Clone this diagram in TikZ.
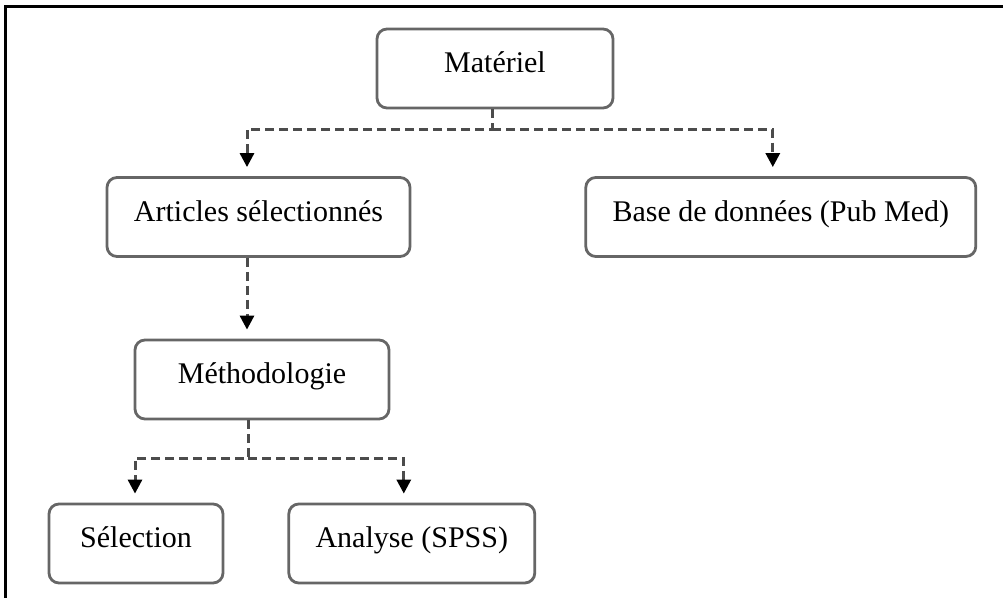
\documentclass[tikz,border=0pt]{standalone}
\usepackage{fontspec}
\setmainfont{Liberation Serif}
\usetikzlibrary{positioning,arrows.meta}
\tikzset{etape/.style={draw=black!60, line width=1.4pt, rounded corners=5pt, fill=white,
		font=\fontsize{15}{18}\selectfont, text height=0.8em, text depth=0.36em,
		inner sep=0pt, minimum height=39.5pt}}
\tikzset{lien/.style={draw=black!70, line width=1.5pt, dash pattern=on 4.5pt off 2.5pt,
		shorten >=4.5pt, -{Triangle[width=7pt,length=7pt,color=black]}}}
\begin{document}
\begin{tikzpicture}[x=0.5pt,y=-0.5pt]
	\useasboundingbox[fill=white] (0,0) rectangle (1003,598);
	\draw[line width=1.5pt] (5,598) |- (1003,7);
	
	\node[etape, minimum width=118pt] (mat) at (495,68.5) {Matériel};
	\node[etape, minimum width=151.5pt] (art) at (258.5,217) {Articles sélectionnés};
	\node[etape, minimum width=195pt, right=86.5pt of art] (base) {Base de données (Pub Med)};
	\node[etape, minimum width=127pt] (meth) at (262,379.5) {Méthodologie};
	\node[etape, minimum width=87pt] (sel) at (136,543.5) {Sélection};
	\node[etape, minimum width=123pt, right=31.5pt of sel] (ana) {Analyse (SPSS)};
	
	\draw[lien] ([xshift=-1.5pt]mat.south) -- ++(0,20) coordinate (fourche1) -| ([xshift=-5.75pt]art.north);
	\draw[lien] (fourche1) -| ([xshift=-4pt]base.north);
	\draw[lien] ([xshift=-5.75pt]art.south) -- ([xshift=-7.5pt]meth.north);
	\draw[lien] ([xshift=-7pt]meth.south) -- ++(0,38) coordinate (fourche2) -| ([xshift=-0.5pt]sel.north);
	\draw[lien] (fourche2) -| ([xshift=-4pt]ana.north);
\end{tikzpicture}
\end{document}
